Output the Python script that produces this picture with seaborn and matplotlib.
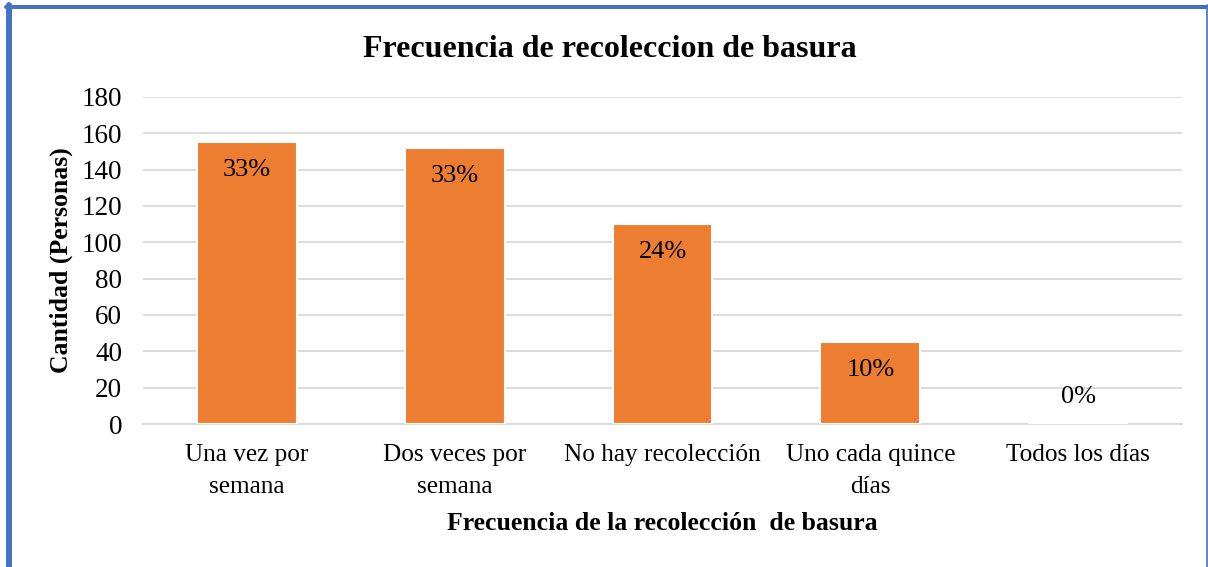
import pandas as pd
import seaborn as sns
import matplotlib.pyplot as plt
from matplotlib.lines import Line2D

# Data
categorias = ['Una vez por\nsemana', 'Dos veces por\nsemana', 'No hay recolección',
              'Uno cada quince\ndías', 'Todos los días']
cantidad = [155, 152, 110, 45, 0]
porcentajes = ['33%', '33%', '24%', '10%', '0%']

df = pd.DataFrame({'categoria': categorias, 'cantidad': cantidad})

sns.set_style('white')
plt.rcParams['font.family'] = ['Liberation Serif', 'DejaVu Serif']
plt.rcParams['text.color'] = 'black'
plt.rcParams['axes.labelcolor'] = 'black'
plt.rcParams['xtick.color'] = 'black'
plt.rcParams['ytick.color'] = 'black'

fig = plt.figure(figsize=(12.08, 5.67), dpi=100)
ax = fig.add_axes([0.1184, 0.2522, 0.8601, 0.5768])

sns.barplot(data=df, x='categoria', y='cantidad', color='#ED7D31', width=0.48,
            saturation=1, edgecolor='white', linewidth=1.5, ax=ax, zorder=3)

# percentage labels, inside end of each bar
for i, (v, p) in enumerate(zip(cantidad, porcentajes)):
    off = -28 if v > 0 else 27
    ax.annotate(p, (i, v), xytext=(0, off), textcoords='offset pixels',
                ha='center', va='center', fontsize=19, color='black', zorder=4)

ax.set_ylim(0, 180)
ax.set_xlim(-0.5, 4.5)
ax.set_yticks(range(0, 181, 20))
ax.yaxis.grid(True, color='#D9D9D9', linewidth=1.3, zorder=0)
ax.xaxis.grid(False)

for s in ['top', 'right', 'left']:
    ax.spines[s].set_visible(False)
ax.spines['bottom'].set_color('#D9D9D9')
ax.spines['bottom'].set_linewidth(1.3)

ax.set_xticks(range(len(categorias)), categorias, linespacing=1.6)
ax.tick_params(axis='y', length=0, labelsize=19.5, pad=15)
ax.tick_params(axis='x', which='major', length=0, labelsize=18.2, pad=14.5)
ax.set_xticks([i - 0.5 for i in range(6)], minor=True)
ax.tick_params(axis='x', which='minor', length=7, width=1.3, color='#D9D9D9', direction='out')

ax.set_xlabel('Frecuencia de la recolección  de basura', fontsize=18.5,
              fontweight='bold', labelpad=10)
ax.set_ylabel('Cantidad (Personas)', fontsize=18.5, fontweight='bold', labelpad=6)

fig.text(0.505, 0.913, 'Frecuencia de recoleccion de basura', ha='center', va='center',
         fontsize=23, fontweight='bold')

# blue frame: thick top and left, thin right
fig.lines.append(Line2D([0.005, 1.0], [1 - 7 / 567] * 2, transform=fig.transFigure,
                        color='#4472C4', linewidth=2.9))
fig.lines.append(Line2D([9 / 1208] * 2, [0, 1 - 5 / 567], transform=fig.transFigure,
                        color='#4472C4', linewidth=4.3))
fig.lines.append(Line2D([1206.5 / 1208] * 2, [0, 1 - 5 / 567], transform=fig.transFigure,
                        color='#4472C4', linewidth=1.2))

fig.savefig('out.png', dpi=100)
